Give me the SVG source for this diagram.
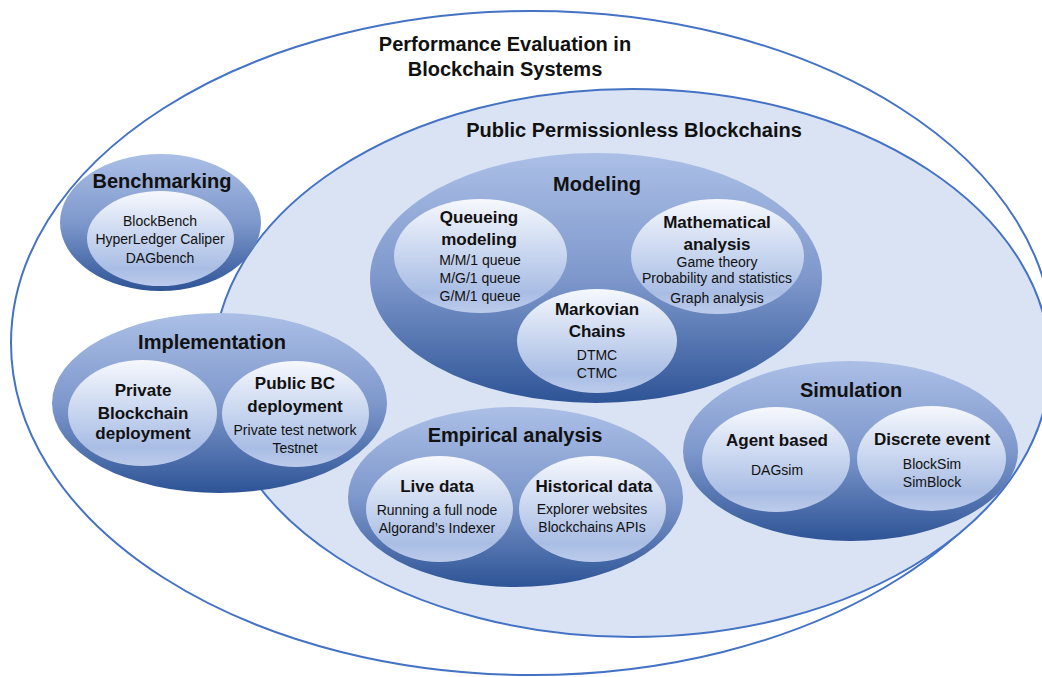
<svg xmlns="http://www.w3.org/2000/svg" width="1042" height="677" viewBox="0 0 1042 677">
<defs>
<linearGradient id="ring" x1="0" y1="0" x2="0" y2="1">
<stop offset="0" stop-color="#abbfe6"/>
<stop offset="0.5" stop-color="#7e98cc"/>
<stop offset="1" stop-color="#2e5496"/>
</linearGradient>
<linearGradient id="core" x1="0" y1="0" x2="0" y2="1">
<stop offset="0" stop-color="#f6f8fd"/>
<stop offset="0.45" stop-color="#cbd8f0"/>
<stop offset="0.82" stop-color="#a9bde4"/>
<stop offset="1" stop-color="#bccbeb"/>
</linearGradient>
</defs>
<style>
.ring{fill:url(#ring);stroke:none}
.core{fill:url(#core);stroke:none}
text{font-family:"Liberation Sans",Arial,sans-serif;fill:#111;text-anchor:middle}
.t1{font-size:20px;font-weight:bold}
.t2{font-size:17px;font-weight:bold}
.it{font-size:14px}
</style>
<rect width="1042" height="677" fill="#ffffff"/>
<g id="performance-evaluation">
<ellipse cx="532" cy="343" rx="521" ry="332" fill="#ffffff" stroke="#4472c4" stroke-width="2"/>
<text class="t1" x="505" y="51">Performance Evaluation in</text>
<text class="t1" x="505" y="76">Blockchain Systems</text>
</g>
<g id="public-permissionless">
<ellipse cx="632" cy="363" rx="418" ry="274" fill="#dae3f3" stroke="#4472c4" stroke-width="2"/>
<text class="t1" x="634" y="137">Public Permissionless Blockchains</text>
</g>
<g id="benchmarking">
<ellipse class="ring" cx="160.5" cy="222.5" rx="100.5" ry="68.5"/>
<ellipse class="core" cx="160.5" cy="238.5" rx="73.5" ry="47.5"/>
<text class="t1" x="162" y="188">Benchmarking</text>
<text class="it" x="160" y="226">BlockBench</text>
<text class="it" x="160" y="244">HyperLedger Caliper</text>
<text class="it" x="160" y="263">DAGbench</text>
</g>
<g id="modeling">
<ellipse class="ring" cx="596" cy="278" rx="226" ry="125"/>
<text class="t1" x="597" y="191">Modeling</text>
</g>
<g id="queueing-modeling">
<ellipse class="core" cx="480.5" cy="256" rx="86.5" ry="57"/>
<text class="t2" x="479" y="223">Queueing</text>
<text class="t2" x="479" y="245">modeling</text>
<text class="it" x="480" y="265">M/M/1 queue</text>
<text class="it" x="480" y="283">M/G/1 queue</text>
<text class="it" x="480" y="301">G/M/1 queue</text>
</g>
<g id="mathematical-analysis">
<ellipse class="core" cx="717.5" cy="256.5" rx="86.5" ry="57.5"/>
<text class="t2" x="717" y="228">Mathematical</text>
<text class="t2" x="717" y="250">analysis</text>
<text class="it" x="717" y="267">Game theory</text>
<text class="it" x="717" y="283">Probability and statistics</text>
<text class="it" x="717" y="303">Graph analysis</text>
</g>
<g id="markovian-chains">
<ellipse class="core" cx="597" cy="341" rx="80" ry="52"/>
<text class="t2" x="597" y="315">Markovian</text>
<text class="t2" x="597" y="337">Chains</text>
<text class="it" x="597" y="360">DTMC</text>
<text class="it" x="597" y="378">CTMC</text>
</g>
<g id="implementation">
<ellipse class="ring" cx="219.5" cy="403" rx="167.5" ry="90"/>
<text class="t1" x="212" y="349">Implementation</text>
</g>
<g id="private-blockchain-deployment">
<ellipse class="core" cx="142.5" cy="413" rx="74.5" ry="53"/>
<text class="t2" x="143" y="396">Private</text>
<text class="t2" x="143" y="419">Blockchain</text>
<text class="t2" x="143" y="439">deployment</text>
</g>
<g id="public-bc-deployment">
<ellipse class="core" cx="295.5" cy="414" rx="73.5" ry="53"/>
<text class="t2" x="295" y="389">Public BC</text>
<text class="t2" x="295" y="412">deployment</text>
<text class="it" x="295" y="435">Private test network</text>
<text class="it" x="295" y="453">Testnet</text>
</g>
<g id="empirical-analysis">
<ellipse class="ring" cx="515.5" cy="497" rx="167.5" ry="90"/>
<text class="t1" x="515" y="442">Empirical analysis</text>
</g>
<g id="live-data">
<ellipse class="core" cx="439.5" cy="509" rx="73.5" ry="53"/>
<text class="t2" x="437" y="492">Live data</text>
<text class="it" x="437" y="515">Running a full node</text>
<text class="it" x="437" y="533">Algorand’s Indexer</text>
</g>
<g id="historical-data">
<ellipse class="core" cx="592.5" cy="509" rx="73.5" ry="53"/>
<text class="t2" x="594" y="492">Historical data</text>
<text class="it" x="592" y="514">Explorer websites</text>
<text class="it" x="592" y="532">Blockchains APIs</text>
</g>
<g id="simulation">
<ellipse class="ring" cx="850.5" cy="451" rx="167.5" ry="90"/>
<text class="t1" x="851" y="397">Simulation</text>
</g>
<g id="agent-based">
<ellipse class="core" cx="776" cy="459.5" rx="74" ry="52.5"/>
<text class="t2" x="777" y="446">Agent based</text>
<text class="it" x="777" y="475">DAGsim</text>
</g>
<g id="discrete-event">
<ellipse class="core" cx="931.5" cy="458.5" rx="74.5" ry="52.5"/>
<text class="t2" x="932" y="445">Discrete event</text>
<text class="it" x="932" y="469">BlockSim</text>
<text class="it" x="932" y="487">SimBlock</text>
</g>
<g id="connectors"></g>
</svg>
